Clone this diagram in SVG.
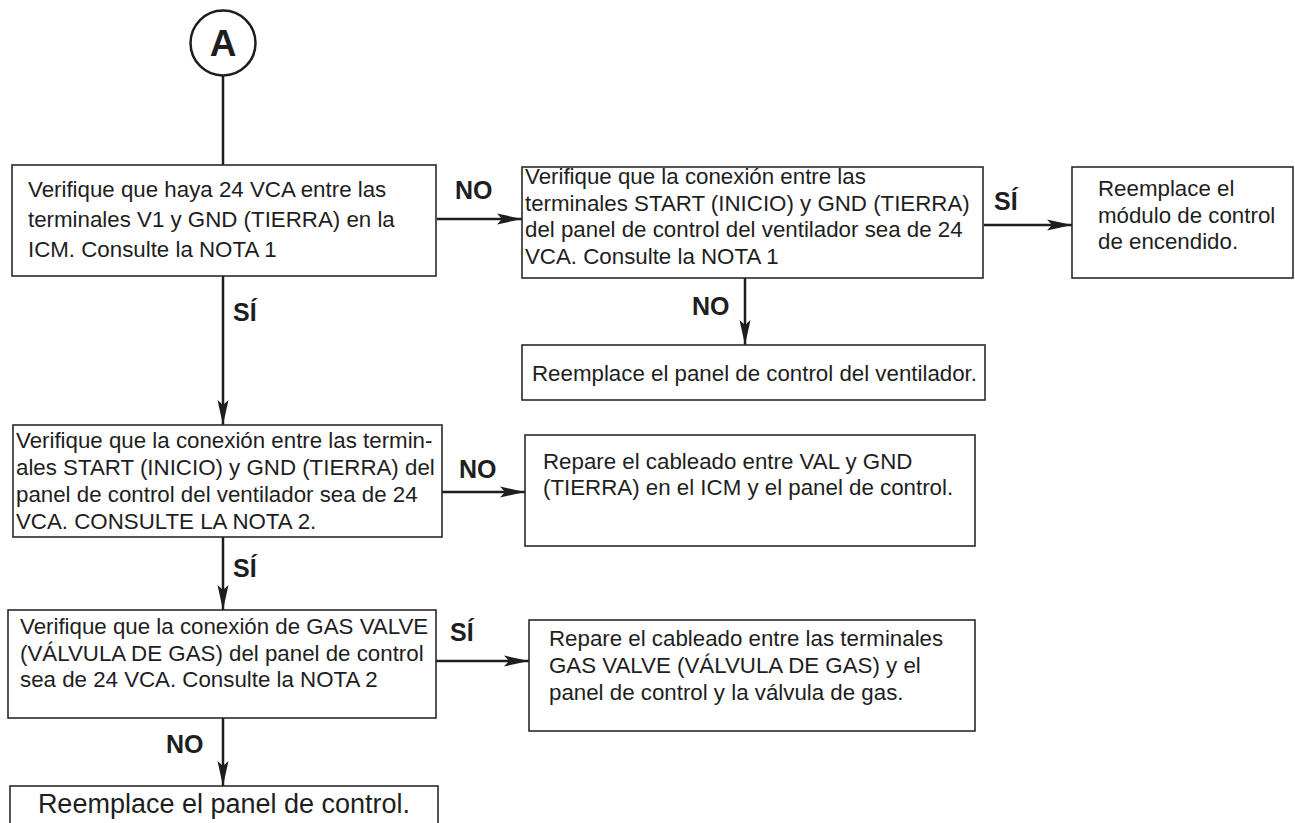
<svg xmlns="http://www.w3.org/2000/svg" width="1295" height="823" viewBox="0 0 1295 823">
<style>
.box{fill:#fff;stroke:#2a2a2a;stroke-width:1.6}
.t{font-family:"Liberation Sans",Arial,sans-serif;font-size:22.3px;fill:#1e1e1e}
.big{font-family:"Liberation Sans",Arial,sans-serif;font-size:27px;fill:#1e1e1e}
.lbl{font-family:"Liberation Sans",Arial,sans-serif;font-size:25px;font-weight:bold;fill:#1e1e1e}
.c{stroke:#1e1e1e;stroke-width:2.5;fill:none}
</style>
<defs>
<marker id="ah" markerUnits="userSpaceOnUse" viewBox="0 -6 25 12" refX="25" refY="0" markerWidth="25" markerHeight="12" orient="auto">
<path d="M0,-5.5 L25,0 L0,5.5 L5,0 Z" fill="#1e1e1e"/>
</marker>
</defs>
<rect width="1295" height="823" fill="#fff"/>
<g id="connectors">
<line class="c" x1="223" y1="76" x2="223" y2="165"/>
<line class="c" x1="437" y1="219" x2="522" y2="219" marker-end="url(#ah)"/>
<line class="c" x1="984" y1="225" x2="1072" y2="225" marker-end="url(#ah)"/>
<line class="c" x1="745" y1="278" x2="745" y2="345" marker-end="url(#ah)"/>
<line class="c" x1="223" y1="276" x2="223" y2="425" marker-end="url(#ah)"/>
<line class="c" x1="442" y1="492" x2="525" y2="492" marker-end="url(#ah)"/>
<line class="c" x1="223" y1="537" x2="223" y2="610" marker-end="url(#ah)"/>
<line class="c" x1="436" y1="661" x2="529" y2="661" marker-end="url(#ah)"/>
<line class="c" x1="223" y1="718" x2="223" y2="786" marker-end="url(#ah)"/>
<text class="lbl" x="455" y="199">NO</text>
<text class="lbl" x="994" y="210">SÍ</text>
<text class="lbl" x="692" y="315">NO</text>
<text class="lbl" x="233" y="321">SÍ</text>
<text class="lbl" x="459" y="478">NO</text>
<text class="lbl" x="233" y="577">SÍ</text>
<text class="lbl" x="450" y="641">SÍ</text>
<text class="lbl" x="166" y="753">NO</text>
</g>
<g id="nodeA">
<circle cx="223" cy="43" r="32.5" fill="#fff" stroke="#1e1e1e" stroke-width="2.5"/>
<text x="223" y="56" text-anchor="middle" font-family="'Liberation Sans',Arial,sans-serif" font-size="37" font-weight="bold" fill="#1e1e1e">A</text>
</g>
<g id="box1">
<rect class="box" x="12" y="165" width="424" height="111"/>
<text class="t" x="28" y="197">Verifique que haya 24 VCA entre las</text>
<text class="t" x="28" y="227">terminales V1 y GND (TIERRA) en la</text>
<text class="t" x="28" y="257">ICM. Consulte la NOTA 1</text>
</g>
<g id="box2">
<rect class="box" x="522" y="167" width="461" height="111"/>
<text class="t" x="525" y="184">Verifique que la conexión entre las</text>
<text class="t" x="525" y="210.5">terminales START (INICIO) y GND (TIERRA)</text>
<text class="t" x="525" y="237">del panel de control del ventilador sea de 24</text>
<text class="t" x="525" y="263.5">VCA. Consulte la NOTA 1</text>
</g>
<g id="box3">
<rect class="box" x="1072" y="167" width="221" height="111"/>
<text class="t" x="1098" y="196">Reemplace el</text>
<text class="t" x="1098" y="223">módulo de control</text>
<text class="t" x="1098" y="249">de encendido.</text>
</g>
<g id="box4">
<rect class="box" x="522" y="345" width="463" height="55"/>
<text class="t" x="532" y="381">Reemplace el panel de control del ventilador.</text>
</g>
<g id="box5">
<rect class="box" x="13" y="425" width="429" height="112"/>
<text class="t" x="16" y="448">Verifique que la conexión entre las termin-</text>
<text class="t" x="16" y="475">ales START (INICIO) y GND (TIERRA) del</text>
<text class="t" x="16" y="502">panel de control del ventilador sea de 24</text>
<text class="t" x="16" y="529">VCA. CONSULTE LA NOTA 2.</text>
</g>
<g id="box6">
<rect class="box" x="525" y="435" width="450" height="111"/>
<text class="t" x="543" y="469">Repare el cableado entre VAL y GND</text>
<text class="t" x="543" y="495">(TIERRA) en el ICM y el panel de control.</text>
</g>
<g id="box7">
<rect class="box" x="8" y="610" width="428" height="108"/>
<text class="t" x="20" y="634">Verifique que la conexión de GAS VALVE</text>
<text class="t" x="20" y="661">(VÁLVULA DE GAS) del panel de control</text>
<text class="t" x="20" y="687">sea de 24 VCA. Consulte la NOTA 2</text>
</g>
<g id="box8">
<rect class="box" x="529" y="620" width="446" height="111"/>
<text class="t" x="549" y="646">Repare el cableado entre las terminales</text>
<text class="t" x="549" y="673">GAS VALVE (VÁLVULA DE GAS) y el</text>
<text class="t" x="549" y="700">panel de control y la válvula de gas.</text>
</g>
<g id="box9">
<rect class="box" x="10" y="786" width="428" height="60"/>
<text class="big" x="224" y="813" text-anchor="middle">Reemplace el panel de control.</text>
</g>
</svg>
